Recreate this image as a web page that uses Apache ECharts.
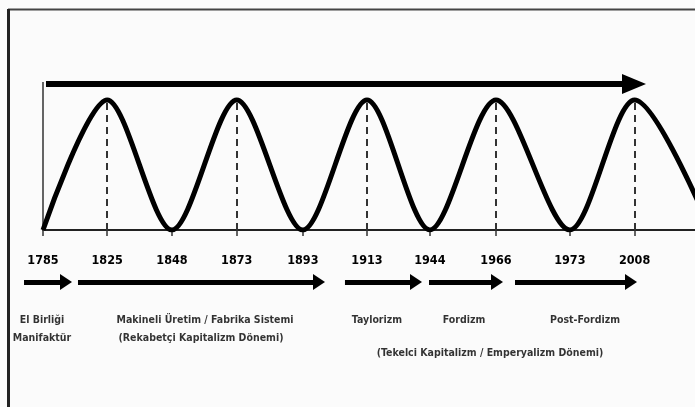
<!DOCTYPE html>
<html>
<head>
<meta charset="utf-8">
<script src="https://cdn.jsdelivr.net/npm/echarts@6/dist/echarts.min.js"></script>
<style>
html,body{margin:0;padding:0;background:#fbfbfb;}
#c{width:695px;height:407px;}
</style>
</head>
<body>
<div id="c"></div>
<script>
// Timeline ticks (position along the axis, in wave half-period units)
const years = ['1785','1825','1848','1873','1893','1913','1944','1966','1973','2008'];
const tickPos = [0, 0.99, 1.99, 2.99, 4.01, 5, 5.97, 6.99, 8.13, 9.13];
// Wave level at each tick (0 = trough, 1 = peak), plus the trough beyond the right edge
const waveLevel = [0, 1, 0, 1, 0, 1, 0, 1, 0, 1];
const waveTailPos = 10.3;
const waveTailLevel = 0;
// Peaks marked with dashed lines
const peakYears = ['1825','1873','1913','1966','2008'];
// Top long arrow (start, tip)
const topArrow = [0.046, 9.306];
const topArrowLevel = 1.123;
// Period arrows below the axis (start, tip)
const arrowStart = [-0.293, 0.540, 4.660, 5.957, 7.284];
const arrowEnd   = [0.448, 4.352, 5.849, 7.099, 9.167];
const arrowLevel = -0.4;
// Period labels
const labelText = ['El Birliği','Manifaktür','Makineli Üretim / Fabrika Sistemi','(Rekabetçi Kapitalizm Dönemi)','Taylorizm','Fordizm','Post-Fordizm','(Tekelci Kapitalizm / Emperyalizm Dönemi)'];
const labelX = [-0.015, -0.015, 2.5, 2.438, 5.154, 6.497, 8.364, 6.898];
const labelLevel = [-0.692, -0.831, -0.692, -0.831, -0.692, -0.692, -0.692, -0.946];

const FONT = '"Liberation Sans Narrow", "Arial Narrow", "DejaVu Sans Condensed", "Liberation Sans", sans-serif';
const unit = 64.8; // px per half period (used only for arrow-head offsets)
const xMax = 652 / unit;
const xMinLower = -43 / unit;

const waveData = tickPos.map((p, i) => [p, waveLevel[i]]).concat([[waveTailPos, waveTailLevel]]);
const peakLines = peakYears.map(y => {
  const p = tickPos[years.indexOf(y)];
  return [{coord: [p, 0]}, {coord: [p, 1]}];
});

const chart = echarts.init(document.getElementById('c'));
chart.setOption({
  backgroundColor: '#fbfbfb',
  animation: false,
  graphic: [
    {type: 'line', shape: {x1: 8, y1: 9.5, x2: 695, y2: 9.5}, style: {stroke: '#444', lineWidth: 2}, z: 10},
    {type: 'line', shape: {x1: 8.5, y1: 9, x2: 8.5, y2: 407}, style: {stroke: '#222', lineWidth: 3}, z: 10}
  ],
  grid: [
    {left: 43, right: 0, top: 80, bottom: 177, outerBoundsMode: 'none', containLabel: false},
    {left: 0, right: 0, top: 230, bottom: 0, outerBoundsMode: 'none', containLabel: false}
  ],
  xAxis: [{
    gridIndex: 0, type: 'value', min: 0, max: xMax,
    splitLine: {show: false},
    axisLine: {show: true, onZero: false, lineStyle: {color: '#222', width: 2}},
    axisTick: {show: true, customValues: tickPos, length: 6, lineStyle: {color: '#333', width: 1.5}},
    axisLabel: {
      show: true, customValues: tickPos, margin: 24,
      formatter: v => { const i = tickPos.findIndex(p => Math.abs(p - v) < 1e-6); return i >= 0 ? years[i] : ''; },
      fontFamily: FONT, fontWeight: 'bold', fontSize: 12.5, color: '#000'
    }
  }, {
    gridIndex: 1, type: 'value', min: xMinLower, max: xMax, show: false
  }],
  yAxis: [
    {gridIndex: 0, type: 'value', min: 0, max: 1.1538, show: false},
    {gridIndex: 1, type: 'value', min: -1.3615, max: 0, show: false}
  ],
  series: [
    {
      type: 'line', xAxisIndex: 0, yAxisIndex: 0, data: waveData, smooth: 0.3, symbol: 'none', clip: true,
      lineStyle: {color: '#000', width: 5}, z: 5,
      markLine: {
        silent: true, symbol: ['none', 'none'], label: {show: false},
        lineStyle: {color: '#333', width: 2, type: [7, 5]},
        data: peakLines
      }
    },
    {
      type: 'line', xAxisIndex: 0, yAxisIndex: 0, data: [], clip: false,
      markLine: {
        silent: true, symbol: ['none', 'none'], label: {show: false},
        lineStyle: {color: '#333', width: 1.5, type: 'solid'},
        data: [[{coord: [0, 0]}, {coord: [0, 1.138]}]]
      }
    },
    {
      type: 'line', xAxisIndex: 0, yAxisIndex: 0, data: [], clip: false,
      markLine: {
        silent: true, symbol: ['none', 'triangle'], symbolSize: [20, 24], label: {show: false},
        lineStyle: {color: '#000', width: 6, type: 'solid'},
        itemStyle: {color: '#000'},
        data: [[{coord: [topArrow[0], topArrowLevel]}, {coord: [topArrow[1] - 12 / unit, topArrowLevel]}]]
      }
    },
    {
      type: 'line', xAxisIndex: 1, yAxisIndex: 1, data: [], clip: false,
      markLine: {
        silent: true, symbol: ['none', 'triangle'], symbolSize: [16, 12], label: {show: false},
        lineStyle: {color: '#000', width: 5, type: 'solid'},
        data: arrowStart.map((s, i) => [{coord: [s, arrowLevel]}, {coord: [arrowEnd[i] - 6 / unit, arrowLevel]}])
      }
    },
    {
      type: 'scatter', xAxisIndex: 1, yAxisIndex: 1, clip: false, symbolSize: 1, itemStyle: {color: 'rgba(0,0,0,0)'},
      data: labelText.map((t, i) => ({name: t, value: [labelX[i], labelLevel[i]]})),
      label: {
        show: true, position: 'inside', formatter: p => p.name,
        fontFamily: FONT, fontWeight: 'bold', fontSize: 10.5, color: '#000'
      }
    }
  ]
});
</script>
</body>
</html>
